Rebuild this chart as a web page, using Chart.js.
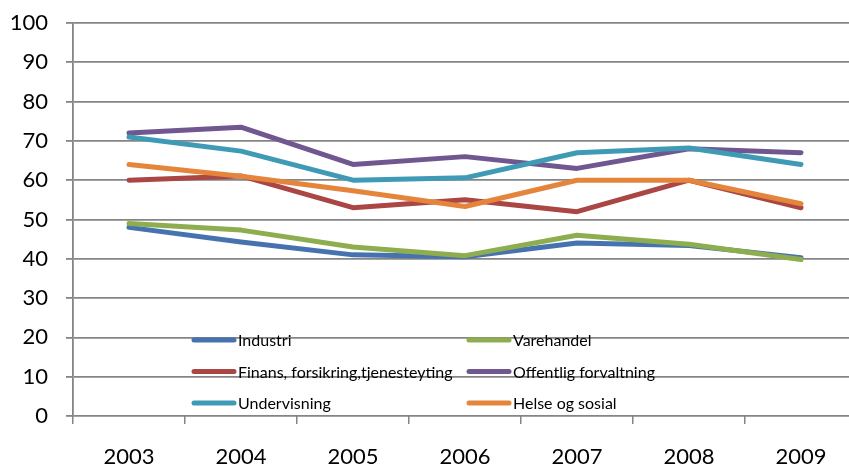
<!DOCTYPE html>
<html>
<head>
<meta charset="utf-8">
<script src="https://cdn.jsdelivr.net/npm/chart.js@4/dist/chart.umd.min.js"></script>
<style>
  html, body { margin: 0; padding: 0; background: #fff; }
  #wrap { width: 849px; height: 468px; overflow: hidden; position: relative; }
  canvas { display: block; }
</style>
</head>
<body>
<div id="wrap"><canvas id="c" width="860" height="468"></canvas></div>
<script>
// Years on the category axis
const years = ['2003', '2004', '2005', '2006', '2007', '2008', '2009'];

// Series values per year
const industri    = [48, 44.3, 41, 40.5, 44, 43.4, 40.3];
const varehandel  = [49, 47.3, 43, 40.8, 46, 43.7, 39.8];
const finans      = [60, 61.1, 53, 55, 52, 60, 53];
const offentlig   = [72, 73.5, 64, 66, 63, 68, 67];
const undervisning = [71, 67.4, 60, 60.6, 67, 68.2, 64];
const helse       = [64, 61, 57.3, 53.3, 60, 60, 54];

const seriesNames = [
  'Industri',
  'Varehandel',
  'Finans, forsikring,tjenesteyting',
  'Offentlig forvaltning',
  'Undervisning',
  'Helse og sosial'
];
const seriesValues = [industri, varehandel, finans, offentlig, undervisning, helse];
const seriesColors = ['#4673B0', '#8EAD4F', '#AA4643', '#71578F', '#3F9BB5', '#E5843B'];

const FONT = 'Lato, "Open Sans", "Liberation Sans", sans-serif';

// Legend drawn inside the plot area, two columns by three rows
const innerLegend = {
  id: 'innerLegend',
  afterDatasetsDraw(chart) {
    const { ctx, chartArea } = chart;
    const colX = [chartArea.left + 119, chartArea.left + 394];
    const rowY = [chartArea.bottom - 76, chartArea.bottom - 44.5, chartArea.bottom - 13];
    ctx.save();
    ctx.font = '16px ' + FONT;
    ctx.textBaseline = 'middle';
    ctx.textAlign = 'left';
    chart.data.datasets.forEach((ds, i) => {
      const x = colX[i % 2];
      const y = rowY[Math.floor(i / 2)];
      ctx.strokeStyle = ds.borderColor;
      ctx.lineWidth = 5;
      ctx.lineCap = 'round';
      ctx.beginPath();
      ctx.moveTo(x + 2, y);
      ctx.lineTo(x + 42, y);
      ctx.stroke();
      ctx.fillStyle = '#000';
      ctx.fillText(ds.label, x + 46, y + 1);
    });
    ctx.restore();
  }
};

new Chart(document.getElementById('c'), {
  type: 'line',
  data: {
    labels: years,
    datasets: seriesNames.map((name, i) => ({
      label: name,
      data: seriesValues[i],
      borderColor: seriesColors[i],
      backgroundColor: seriesColors[i],
      borderWidth: 5,
      borderCapStyle: 'round',
      borderJoinStyle: 'round',
      pointRadius: 0,
      pointHoverRadius: 0,
      tension: 0,
      fill: false,
      order: seriesNames.length - i
    }))
  },
  options: {
    responsive: false,
    animation: false,
    devicePixelRatio: 1,
    layout: { padding: { top: 23, right: 3, left: 0, bottom: 0 } },
    plugins: {
      legend: { display: false },
      tooltip: { enabled: false }
    },
    scales: {
      x: {
        offset: true,
        grid: {
          offset: true,
          drawOnChartArea: false,
          drawTicks: true,
          tickLength: 8,
          color: '#858585',
          lineWidth: 1.5
        },
        border: { display: false },
        ticks: {
          color: '#000',
          font: { family: FONT, size: 22 },
          padding: 20,
          maxRotation: 0
        },
        afterFit(scale) {
          scale.height = 52;
          scale.paddingLeft = 0;
          scale.paddingRight = 0;
        }
      },
      y: {
        min: 0,
        max: 100,
        grid: {
          color: '#858585',
          lineWidth: 1.8,
          drawTicks: true,
          tickLength: 7
        },
        border: { display: true, color: '#858585', width: 1.8 },
        ticks: {
          stepSize: 10,
          color: '#000',
          font: { family: FONT, size: 22 },
          padding: 18
        },
        afterFit(scale) {
          scale.width = 73;
          scale.paddingTop = 0;
          scale.paddingBottom = 0;
        }
      }
    }
  },
  plugins: [innerLegend]
});
</script>
</body>
</html>
